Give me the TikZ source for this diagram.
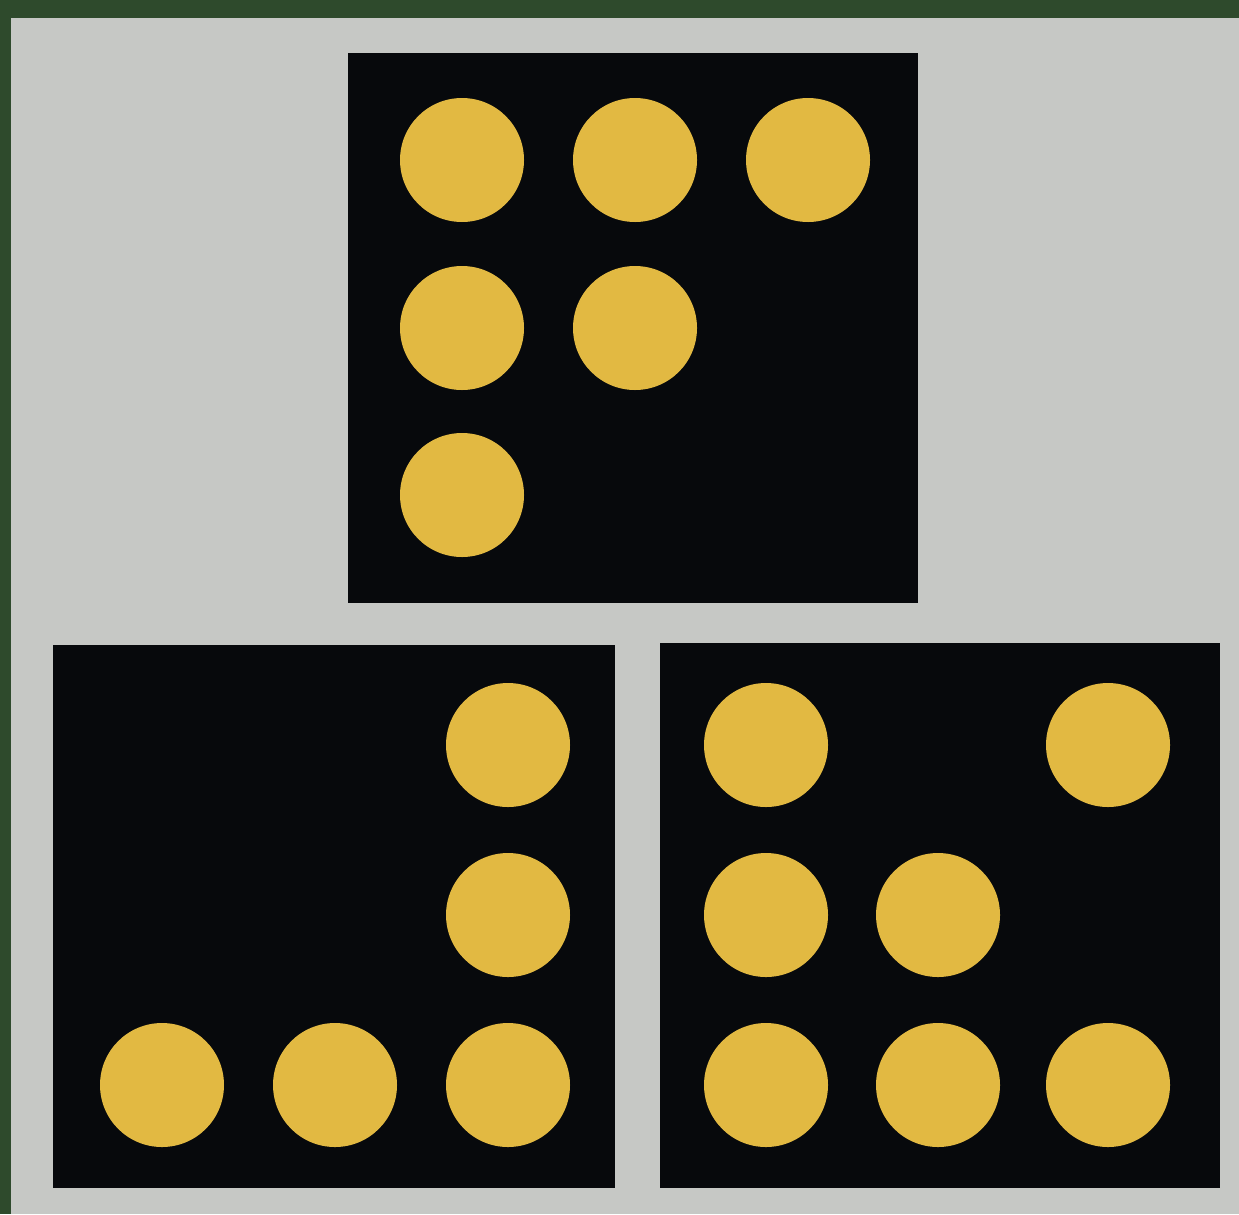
\documentclass[tikz,border=0pt]{standalone}
\definecolor{boardgreen}{HTML}{2E4A2C}
\definecolor{boardgray}{HTML}{C6C8C5}
\definecolor{pipyellow}{HTML}{E2B942}
\definecolor{dieblack}{HTML}{07090C}
\tikzset{
  die/.style={fill=dieblack},
  pip/.style={fill=pipyellow}
}

\begin{document}
\begin{tikzpicture}[x=0.02cm, y=-0.02cm]
    % ---------------- frame (1 unit = 1 px, y downwards)
    \fill[boardgreen] (0,0) rectangle (1239,1214);
    \fill[boardgray] (11,18) rectangle (1239,1214);
    % ---------------- top die, six pips
    \fill[die] (348,53) rectangle (918,603);
    \foreach \px/\py in {462/160, 635/160, 808/160, 462/328, 635/328, 462/495}
      \fill[pip] (\px,\py) circle (62);
    % ---------------- bottom left die, five pips
    \fill[die] (53,645) rectangle (615,1188);
    \foreach \px/\py in {508/745, 508/915, 162/1085, 335/1085, 508/1085}
      \fill[pip] (\px,\py) circle (62);
    % ---------------- bottom right die, seven pips
    \fill[die] (660,643) rectangle (1220,1188);
    \foreach \px/\py in {766/745, 1108/745, 766/915, 938/915, 766/1085, 938/1085, 1108/1085}
      \fill[pip] (\px,\py) circle (62);
\end{tikzpicture}
\end{document}
